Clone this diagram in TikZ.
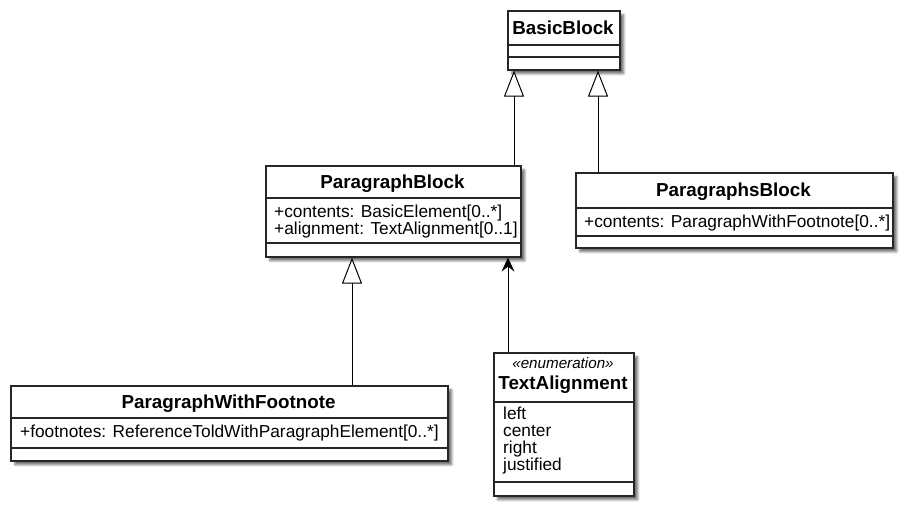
\documentclass[tikz,border=0pt]{standalone}
\usepackage{fontspec}
\setmainfont{Liberation Sans}
\usetikzlibrary{calc,arrows.meta,shadows.blur}
\tikzset{
  classbox/.style={draw=black!85, line width=1.6pt, fill=white, anchor=north west, inner sep=0pt,
    blur shadow={shadow xshift=4pt, shadow yshift=-4pt, shadow blur steps=6, shadow opacity=55}},
  divider/.style={draw=black!85, line width=1.2pt},
  classtitle/.style={anchor=base, inner sep=0pt, font=\fontsize{18.8}{19}\selectfont\bfseries},
  stereo/.style={anchor=base, inner sep=0pt, font=\fontsize{15.2}{16}\selectfont\itshape},
  classattr/.style={anchor=base west, inner sep=0pt, font=\fontsize{17.3}{18}\selectfont},
  extends/.style={line width=1pt, -{Triangle[open, fill=white, length=26pt, width=20pt, line width=1pt]}},
  assoc/.style={line width=1pt, -{Stealth[length=14pt, width=13pt, inset=5pt]}}
}
\begin{document}
\begin{tikzpicture}[x=1pt, y=-1pt]
  \useasboundingbox (0,0) rectangle (921,523);
  %%%%% CLASSES %%%%%

  % BasicBlock
  \node[classbox, minimum width=112pt, minimum height=59pt] (basic) at (507,10) {};
  \draw[divider] ($(basic.north west)+(0,35)$) -- ($(basic.north east)+(0,35)$);
  \draw[divider] ($(basic.north west)+(0,47)$) -- ($(basic.north east)+(0,47)$);
  \node[classtitle] (basic-t) at (563,34) {BasicBlock};

  % ParagraphBlock
  \node[classbox, minimum width=255pt, minimum height=91pt] (pblock) at (265,165) {};
  \draw[divider] ($(pblock.north west)+(0,33)$) -- ($(pblock.north east)+(0,33)$);
  \draw[divider] ($(pblock.north west)+(0,78)$) -- ($(pblock.north east)+(0,78)$);
  \node[classtitle] (pblock-t) at (392.5,188) {ParagraphBlock};
  \node[classattr] (pblock-a1) at (274,217) {+contents: BasicElement[0..*]};
  \node[classattr] (pblock-a2) at (274,234) {+alignment: TextAlignment[0..1]};

  % ParagraphsBlock
  \node[classbox, minimum width=317pt, minimum height=75pt] (psblock) at (575,172) {};
  \draw[divider] ($(psblock.north west)+(0,36)$) -- ($(psblock.north east)+(0,36)$);
  \draw[divider] ($(psblock.north west)+(0,64)$) -- ($(psblock.north east)+(0,64)$);
  \node[classtitle] (psblock-t) at (733.5,196.5) {ParagraphsBlock};
  \node[classattr] (psblock-a1) at (584,227.5) {+contents: ParagraphWithFootnote[0..*]};

  % ParagraphWithFootnote
  \node[classbox, minimum width=437pt, minimum height=75pt] (pwf) at (10,385) {};
  \draw[divider] ($(pwf.north west)+(0,33)$) -- ($(pwf.north east)+(0,33)$);
  \draw[divider] ($(pwf.north west)+(0,63)$) -- ($(pwf.north east)+(0,63)$);
  \node[classtitle] (pwf-t) at (228.5,408) {ParagraphWithFootnote};
  \node[classattr] (pwf-a1) at (20,437.5) {+footnotes: ReferenceToldWithParagraphElement[0..*]};

  % TextAlignment
  \node[classbox, minimum width=140pt, minimum height=143pt] (talign) at (493,352) {};
  \draw[divider] ($(talign.north west)+(0,50)$) -- ($(talign.north east)+(0,50)$);
  \draw[divider] ($(talign.north west)+(0,130)$) -- ($(talign.north east)+(0,130)$);
  \node[stereo] (talign-s) at (563,368) {«enumeration»};
  \node[classtitle] (talign-t) at (563,389) {TextAlignment};
  \foreach \lit [count=\i] in {left,center,right,justified}
    \node[classattr] (talign-\i) at (503,{402+17*\i}) {\lit};

  %%%%% RELATIONS %%%%%
  \coordinate (basic-l) at ($(basic.south west)+(7,0)$);
  \coordinate (basic-r) at ($(basic.south west)+(91,0)$);
  \coordinate (pblock-l) at ($(pblock.south west)+(87,0)$);
  \coordinate (pblock-r) at ($(pblock.south west)+(243,0)$);

  \draw[extends] (pblock.north -| basic-l) -- (basic-l);
  \draw[extends] (psblock.north -| basic-r) -- (basic-r);
  \draw[extends] (pwf.north -| pblock-l) -- (pblock-l);
  \draw[assoc] (talign.north -| pblock-r) -- (pblock-r);
\end{tikzpicture}
\end{document}
